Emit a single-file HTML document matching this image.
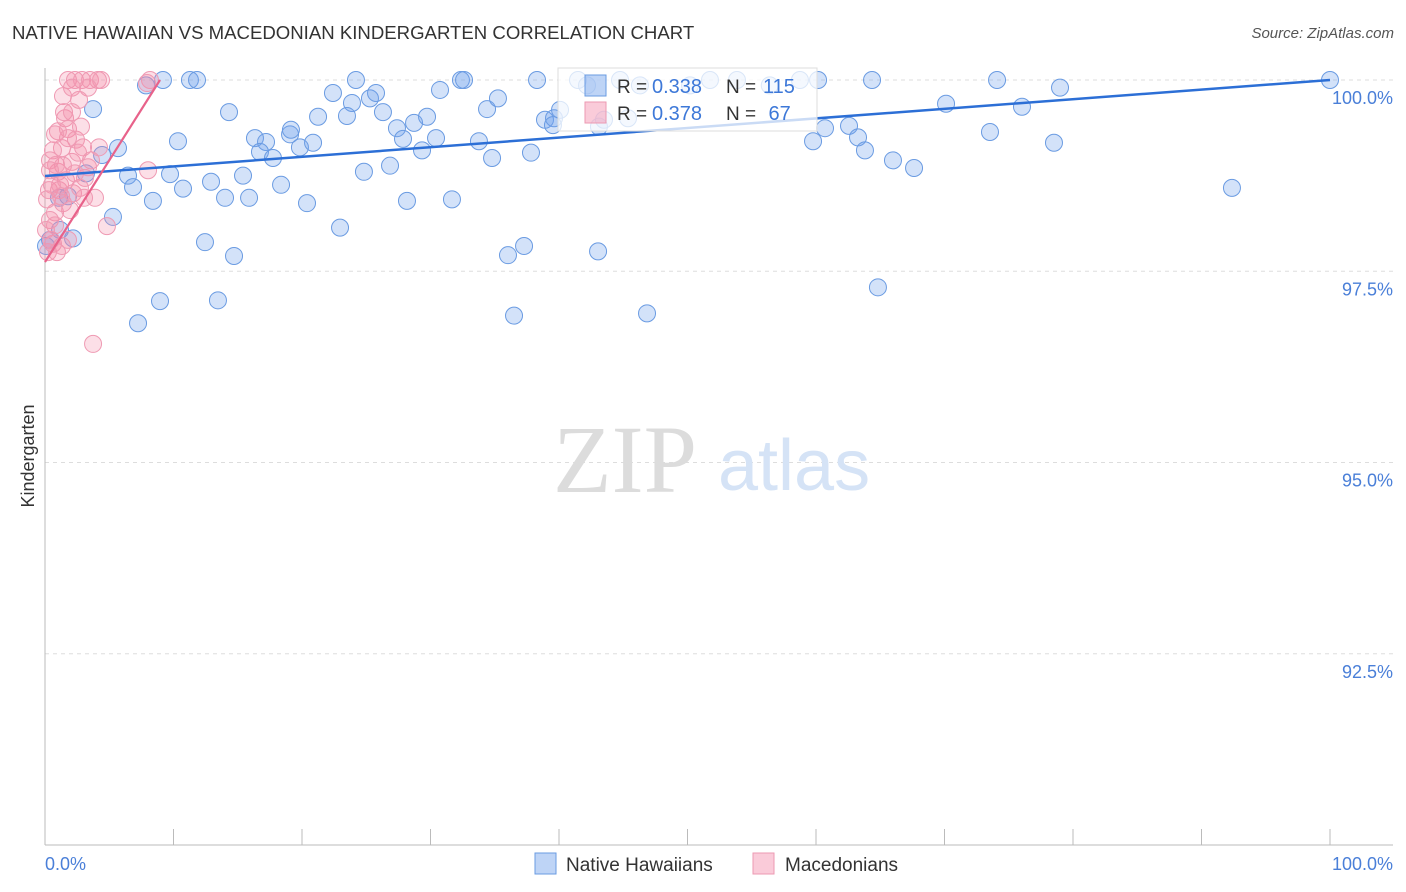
<!DOCTYPE html>
<html><head><meta charset="utf-8"><style>
body{margin:0;background:#fff;font-family:"Liberation Sans",sans-serif;}
#wrap{position:relative;width:1406px;height:892px;overflow:hidden;}
.t{position:absolute;white-space:nowrap;}
</style></head><body>
<div id="wrap">
<div class="t" style="left:12px;top:22px;font-size:18.6px;color:#333;">NATIVE HAWAIIAN VS MACEDONIAN KINDERGARTEN CORRELATION CHART</div>
<div class="t" style="right:12px;top:25px;font-size:15px;color:#555;font-style:italic">Source: ZipAtlas.com</div>
<svg id="svg" width="1406" height="892" style="position:absolute;left:0;top:0"></svg>
</div>
<script>
const yTicks=[100,97.5,95,92.5];
const yTickLabels=["100.0%","97.5%","95.0%","92.5%"];
const xTickLabels=["0.0%","100.0%"];
const blueX=[7.86,9.18,11.28,11.83,3.74,14.32,10.35,5.68,4.44,6.46,6.85,8.4,9.73,10.74,12.92,14.01,15.41,15.88,12.45,14.71,8.95,13.46,7.24,2.18,5.29,3.19,16.34,17.2,16.73,17.74,18.37,19.07,19.14,19.84,20.86,21.25,20.39,22.96,22.41,23.89,24.2,23.5,25.29,25.76,26.3,24.82,26.85,27.39,27.86,28.72,29.34,29.73,30.43,30.74,28.17,31.67,32.37,32.61,33.77,34.4,34.79,35.25,36.03,37.28,36.5,37.82,38.29,38.91,39.61,40.08,41.48,43.11,43.5,43.04,46.85,45.37,44.75,51.75,53.85,58.75,60.16,59.77,60.7,62.57,63.27,63.81,65.99,67.63,64.36,64.82,70.12,73.54,74.09,76.03,78.52,78.99,92.37,100,0.08,0.39,1.17,42.18,46.3,50.2,56.4,39.53,1.09,1.79];
const blueY=[99.93,100,100,100,99.62,99.58,99.2,99.11,99.02,98.75,98.6,98.42,98.77,98.58,98.67,98.46,98.75,98.46,97.88,97.7,97.11,97.12,96.82,97.93,98.21,98.78,99.24,99.19,99.06,98.98,98.63,99.29,99.35,99.12,99.18,99.52,98.39,98.07,99.83,99.7,100,99.53,99.76,99.83,99.58,98.8,98.88,99.37,99.23,99.44,99.08,99.52,99.24,99.87,98.42,98.44,100,100,99.2,99.62,98.98,99.76,97.71,97.83,96.92,99.05,100,99.48,99.5,99.61,100,99.39,99.48,97.76,96.95,99.5,100,100,100,100,100,99.2,99.37,99.4,99.25,99.08,98.95,98.85,100,97.29,99.69,99.32,100,99.65,99.18,99.9,98.59,100,97.83,97.91,98.04,99.93,99.93,99.93,99.93,99.41,98.46,98.48];
const pinkX=[1.79,2.33,2.88,3.5,4.12,4.36,1.4,2.1,3.35,2.65,1.56,1.79,1.01,2.41,1.32,0.62,2.96,3.58,1.01,0.39,2.1,3.11,0.31,1.09,1.4,0.78,2.18,2.72,3.89,0.39,0.78,4.82,0.62,0.23,0.93,1.32,1.79,3.74,8.02,8.17,7.94,1.17,1.63,0.54,0.16,1.95,2.57,4.2,3.35,1.4,0.86,0.39,1.79,0.08,0.47,1.25,2.33,3.04,0.78,1.48,2.1,2.8];
const pinkY=[100,100,100,100,100,100,99.79,99.9,99.9,99.74,99.5,99.36,99.33,99.22,99.11,99.08,99.12,98.95,98.8,98.95,98.93,98.72,98.56,98.56,98.39,98.27,98.52,98.59,98.46,98.17,98.1,98.09,97.86,97.75,97.75,97.83,97.91,96.55,98.82,100,99.96,98.63,98.69,98.63,98.44,98.3,99.05,99.12,98.86,98.88,98.89,98.82,99.24,98.04,97.91,98.48,98.78,98.46,99.29,99.58,99.58,99.39];
const blueTrend=[98.745,100];
const pinkTrend=[97.62,100];
const pinkTrendEnd=8.95;

const NS="http://www.w3.org/2000/svg";
const svg=document.getElementById('svg');
const X0=45,X1=1330,Y0=80,YB=845;
const sx=v=>X0+(X1-X0)*v/100;
const sy=v=>Y0+(100-v)*76.5;
function mk(tag,attrs,parent){const e=document.createElementNS(NS,tag);for(const k in attrs)e.setAttribute(k,attrs[k]);(parent||svg).appendChild(e);return e;}
yTicks.forEach((t,i)=>{
  const g=mk('line',{x1:X0,x2:1393,y1:sy(t),y2:sy(t),stroke:'#ddd','stroke-dasharray':'4,4'});
  
  
  const tx=mk('text',{x:1393,y:sy(t)+24,'text-anchor':'end','font-size':18,fill:'#4a7fd8','font-family':'Liberation Sans, sans-serif'});
  tx.textContent=yTickLabels[i];
  
  
});
const ya=mk('line',{x1:X0,x2:X0,y1:68,y2:YB,stroke:'#bbb'});


const xa=mk('line',{x1:X0,x2:1393,y1:YB,y2:YB,stroke:'#bbb'});


for(let i=0;i<=10;i++){
  const tk=mk('line',{x1:sx(i*10),x2:sx(i*10),y1:829,y2:YB,stroke:'#bbb'});
  
  
}
const xl0=mk('text',{x:45,y:870,'font-size':18,fill:'#4a7fd8','font-family':'Liberation Sans, sans-serif'});xl0.textContent=xTickLabels[0];


const xl1=mk('text',{x:1393,y:870,'text-anchor':'end','font-size':18,fill:'#4a7fd8','font-family':'Liberation Sans, sans-serif'});xl1.textContent=xTickLabels[1];


const yt=mk('text',{x:34,y:456,'text-anchor':'middle','font-size':18,fill:'#333',transform:'rotate(-90 34 456)','font-family':'Liberation Sans, sans-serif'});yt.textContent='Kindergarten';


const w1=mk('text',{x:553,y:492,'font-size':96,fill:'#dcdcdc','font-family':'Liberation Serif, serif'});w1.textContent='ZIP';


const w2=mk('text',{x:718,y:490,'font-size':72,fill:'#d5e3f6','font-family':'Liberation Sans, sans-serif'});w2.textContent='atlas';


blueX.forEach((x,i)=>{
  const c=mk('circle',{cx:sx(x),cy:sy(blueY[i]),r:8.5,fill:'rgba(110,160,235,0.3)',stroke:'#6a9be2','stroke-width':1});
  
  
});
pinkX.forEach((x,i)=>{
  const c=mk('circle',{cx:sx(x),cy:sy(pinkY[i]),r:8.5,fill:'rgba(245,140,170,0.28)',stroke:'#ef9ab3','stroke-width':1});
  
  
});
const bl=mk('line',{x1:sx(0),y1:sy(blueTrend[0]),x2:sx(100),y2:sy(blueTrend[1]),stroke:'#2c6fd6','stroke-width':2.5});


const pl=mk('line',{x1:sx(0),y1:sy(pinkTrend[0]),x2:sx(pinkTrendEnd),y2:sy(pinkTrend[1]),stroke:'#e8628a','stroke-width':2.2});


const lg=mk('g',{});


mk('rect',{x:558,y:68,width:259,height:63,fill:'rgba(255,255,255,0.75)',stroke:'#ddd'},lg);
mk('rect',{x:585,y:75,width:21,height:21,fill:'rgba(110,160,235,0.45)',stroke:'#6a9be2'},lg);
mk('rect',{x:585,y:102,width:21,height:21,fill:'rgba(245,140,170,0.45)',stroke:'#ec9ab2'},lg);
const rows=[["0.338","115",93],["0.378"," 67",120]];
rows.forEach(r=>{
  const a=mk('text',{x:617,y:r[2],'font-size':19,fill:'#333','font-family':'Liberation Sans, sans-serif'},lg);a.textContent='R = ';
  const b=mk('text',{x:652,y:r[2],'font-size':20,fill:'#3d78d8','font-family':'Liberation Sans, sans-serif'},lg);b.textContent=r[0];
  const c=mk('text',{x:726,y:r[2],'font-size':19,fill:'#333','font-family':'Liberation Sans, sans-serif'},lg);c.textContent='N = ';
  const d=mk('text',{x:763,y:r[2],'font-size':20,fill:'#3d78d8','font-family':'Liberation Sans, sans-serif'},lg);d.textContent=r[1];
  d.setAttribute('style','white-space:pre');
});
const bg=mk('g',{});


mk('rect',{x:535,y:853,width:21,height:21,fill:'rgba(110,160,235,0.45)',stroke:'#6a9be2'},bg);
const n1=mk('text',{x:566,y:871,'font-size':19,fill:'#333','font-family':'Liberation Sans, sans-serif'},bg);n1.textContent='Native Hawaiians';
mk('rect',{x:753,y:853,width:21,height:21,fill:'rgba(245,140,170,0.45)',stroke:'#ec9ab2'},bg);
const n2=mk('text',{x:785,y:871,'font-size':19,fill:'#333','font-family':'Liberation Sans, sans-serif'},bg);n2.textContent='Macedonians';
</script>
</body></html>
